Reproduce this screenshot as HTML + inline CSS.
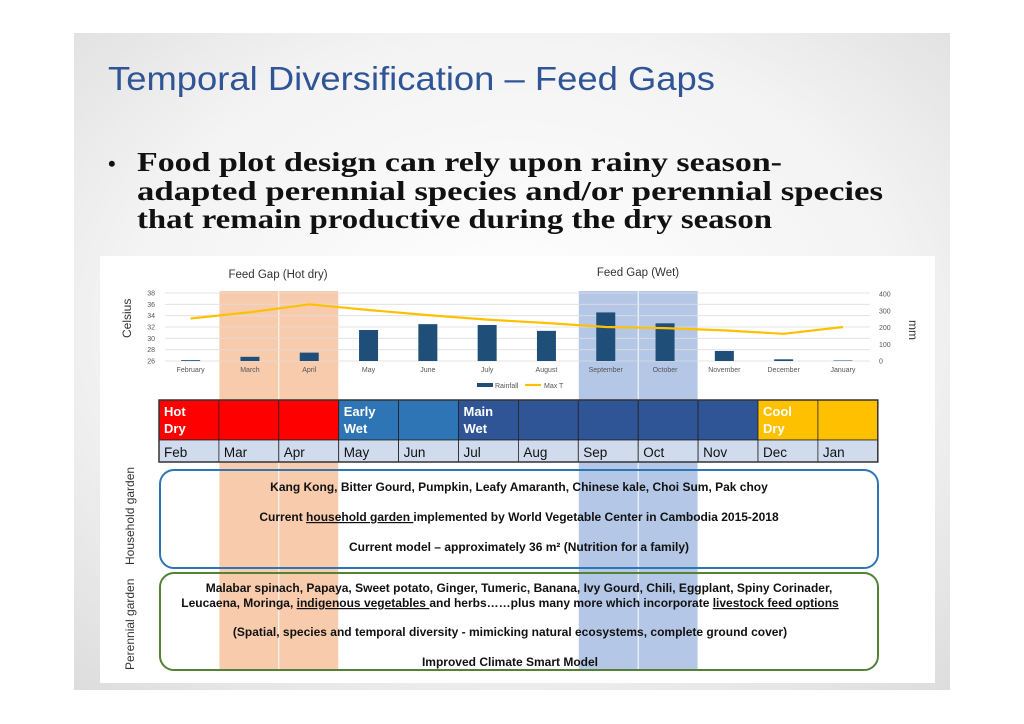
<!DOCTYPE html>
<html><head><meta charset="utf-8"><style>
html,body{margin:0;padding:0;background:#fff;}
svg{display:block;font-family:"Liberation Sans",sans-serif;}
</style></head><body>
<svg id="s" width="1024" height="724" viewBox="0 0 1024 724">
<defs>
<radialGradient id="bg" cx="0.5" cy="0.45" r="0.75">
<stop offset="0" stop-color="#ffffff"/><stop offset="0.6" stop-color="#f3f3f3"/><stop offset="1" stop-color="#dcdcdc"/>
</radialGradient>
</defs>
<rect x="74" y="33" width="876" height="657" fill="url(#bg)"/>
<text x="108" y="90" font-size="33" fill="#2f5597" textLength="607" lengthAdjust="spacingAndGlyphs">Temporal Diversification – Feed Gaps</text>
<g font-family="Liberation Serif,serif" font-weight="bold" font-size="27" fill="#111">
<text x="108" y="171" font-size="22">•</text>
<text x="137" y="171" textLength="645" lengthAdjust="spacingAndGlyphs">Food plot design can rely upon rainy season-</text>
<text x="137" y="200" textLength="746" lengthAdjust="spacingAndGlyphs">adapted perennial species and/or perennial species</text>
<text x="137" y="228" textLength="635" lengthAdjust="spacingAndGlyphs">that remain productive during the dry season</text>
</g>
<rect x="100" y="256" width="835" height="427" fill="#fff"/>
<g id="bands"></g>
<g id="chart"></g>
<g id="table"></g>
<g id="boxes"></g>
</svg>
<script>
const months = ["February","March","April","May","June","July","August","September","October","November","December","January"];
const shortMonths = ["Feb","Mar","Apr","May","Jun","Jul","Aug","Sep","Oct","Nov","Dec","Jan"];
const rainfall = [5,25,50,185,220,215,180,290,225,60,10,3];
const maxT = [33.5,34.6,36.0,35.0,34.1,33.3,32.7,32.0,31.8,31.4,30.8,32.0];
const leftTicks = [26,28,30,32,34,36,38];
const rightTicks = [0,100,200,300,400];
const NS="http://www.w3.org/2000/svg";
function mk(tag,attrs,parent,txt){const e=document.createElementNS(NS,tag);for(const k in attrs)e.setAttribute(k,attrs[k]);if(txt!==undefined)e.textContent=txt;parent.appendChild(e);return e;}
const x0=161, step=59.3;
const xc=i=>x0+step*(i+0.5);
const yL=v=>361-(v-26)/(38-26)*68;
const yR=v=>361-v/400*67;
const tx=159, cw=59.9;
const chart=document.getElementById('chart');
const bands=document.getElementById('bands');
[[1,2,"#f8cbad","feed-gap-hot-dry-band"],[7,8,"#b4c7e7","feed-gap-wet-band"]].forEach(b=>{
  for(let i=b[0];i<=b[1];i++){
    const r=mk('rect',{x:tx+cw*i+0.5,y:291,width:cw-1,height:378,fill:b[2]},bands);
    
    
  }
});
mk('text',{x:278,y:278,'font-size':11.5,'text-anchor':'middle',fill:'#333',},chart,"Feed Gap (Hot dry)");
mk('text',{x:638,y:276,'font-size':11.5,'text-anchor':'middle',fill:'#333',},chart,"Feed Gap (Wet)");
leftTicks.forEach(t=>{
  const g=mk('line',{x1:165,x2:870,y1:yL(t),y2:yL(t),stroke:'#ddd','stroke-width':0.8},chart);
  
  
  const l=mk('text',{x:155,y:yL(t)+2.5,'font-size':7,'text-anchor':'end',fill:'#555'},chart,t);
  
  
});
rightTicks.forEach(t=>{
  const l=mk('text',{x:879,y:yR(t)+2.5,'font-size':7,fill:'#555'},chart,t);
  
  
});
mk('text',{transform:'translate(131,338) rotate(-90)','font-size':12,fill:'#333',},chart,"Celsius");
mk('text',{transform:'translate(909,320) rotate(90)','font-size':12,fill:'#333',},chart,"mm");
rainfall.forEach((v,i)=>{
  const b=mk('rect',{x:xc(i)-9.5,y:yR(v),width:19,height:361-yR(v),fill:'#1f4e79'},chart);
  
  
  const t=mk('text',{x:xc(i),y:372,'font-size':7,'text-anchor':'middle',fill:'#555'},chart,months[i]);
  
  
});
const line=mk('polyline',{points:maxT.map((v,i)=>xc(i)+','+yL(v)).join(' '),fill:'none',stroke:'#ffc000','stroke-width':2.2},chart);


mk('rect',{x:477,y:383,width:16,height:4,fill:'#1f4e79',},chart);
mk('text',{x:495,y:388,'font-size':7,fill:'#555',},chart,"Rainfall");
mk('line',{x1:525,x2:541,y1:385,y2:385,stroke:'#ffc000','stroke-width':2.2,},chart);
mk('text',{x:544,y:388,'font-size':7,fill:'#555',},chart,"Max T");
const table=document.getElementById('table');
const seasonColors=["#ff0000","#ff0000","#ff0000","#2e75b6","#2e75b6","#2f5597","#2f5597","#2f5597","#2f5597","#2f5597","#ffc000","#ffc000"];
const seasonLabels={0:["Hot","Dry"],3:["Early","Wet"],5:["Main","Wet"],10:["Cool","Dry"]};
seasonColors.forEach((c,i)=>{
  const r=mk('rect',{x:tx+cw*i,y:400,width:cw,height:40,fill:c,stroke:'#222','stroke-width':0.8},table);
  
  
  const r2=mk('rect',{x:tx+cw*i,y:440,width:cw,height:22,fill:'#d0dcee',stroke:'#222','stroke-width':0.8},table);
  
  
  const t=mk('text',{x:tx+cw*i+5,y:457,'font-size':13.5,fill:'#111'},table,shortMonths[i]);
  
  
  if(seasonLabels[i]){
    seasonLabels[i].forEach((w,k)=>{
      const s=mk('text',{x:tx+cw*i+5,y:416+k*17,'font-size':13,'font-weight':'bold',fill:'#fff'},table,w);
      
      
    });
  }
});
mk('rect',{x:tx,y:400,width:cw*12,height:62,fill:'none',stroke:'#333','stroke-width':1.5,},table);
const boxes=document.getElementById('boxes');
boxes.innerHTML=`
<rect x="160" y="470" width="718" height="98" rx="14" fill="none" stroke="#2e75b6" stroke-width="2"/>
<rect x="160" y="573" width="718" height="97" rx="14" fill="none" stroke="#548235" stroke-width="2"/>
<text transform="translate(134,565) rotate(-90)" font-size="12" fill="#333">Household garden</text>
<text transform="translate(134,670) rotate(-90)" font-size="12" fill="#333">Perennial garden</text>
<g font-size="12" font-weight="bold" fill="#111" text-anchor="middle">
<text x="519" y="491">Kang Kong, Bitter Gourd, Pumpkin, Leafy Amaranth, Chinese kale, Choi Sum, Pak choy</text>
<text x="519" y="521">Current <tspan text-decoration="underline">household garden </tspan>implemented by World Vegetable Center in Cambodia 2015-2018</text>
<text x="519" y="551">Current model – approximately 36 m² (Nutrition for a family)</text>
<text x="519" y="592">Malabar spinach, Papaya, Sweet potato, Ginger, Tumeric, Banana, Ivy Gourd, Chili, Eggplant, Spiny Corinader,</text>
<text x="510" y="607">Leucaena, Moringa, <tspan text-decoration="underline">indigenous vegetables </tspan>and herbs……plus many more which incorporate <tspan text-decoration="underline">livestock feed options</tspan></text>
<text x="510" y="636">(Spatial, species and temporal diversity - mimicking natural ecosystems, complete ground cover)</text>
<text x="510" y="666">Improved Climate Smart Model</text>
</g>`;
</script>
</body></html>
